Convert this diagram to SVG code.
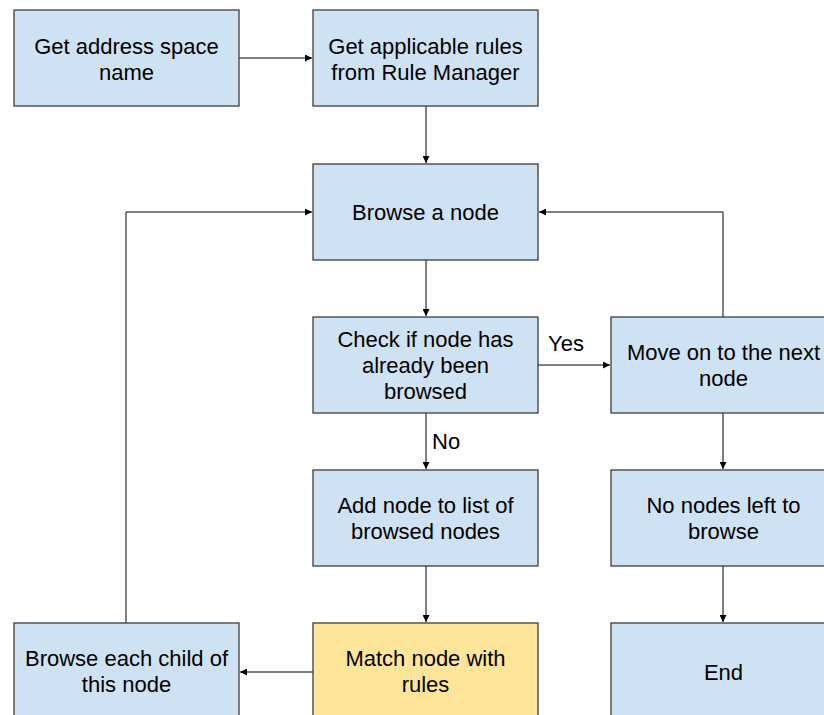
<svg xmlns="http://www.w3.org/2000/svg" width="824" height="715" viewBox="0 0 824 715">
  <style>
    .box { fill: #cfe2f3; stroke: #3c3c3c; stroke-width: 1.3; }
    .hl { fill: #ffe599; }
    .t { font-family: "Liberation Sans", Arial, sans-serif; font-size: 22px; fill: #000; text-anchor: middle; }
    .lbl { font-family: "Liberation Sans", Arial, sans-serif; font-size: 22px; fill: #000; }
    .c { fill: none; stroke: #000; stroke-width: 1; marker-end: url(#arr); }
  </style>
  <defs>
    <marker id="arr" viewBox="0 0 10 10" refX="10" refY="5" markerWidth="7" markerHeight="7" markerUnits="userSpaceOnUse" orient="auto">
      <path d="M0,0 L10,5 L0,10 Z" fill="#000"/>
    </marker>
  </defs>

  <g id="connectors">
    <path class="c" d="M239,58 H312"/>
    <path class="c" d="M426,106 V163"/>
    <path class="c" d="M426,260 V316"/>
    <path class="c" d="M538,365 H610"/>
    <path class="c" d="M426,413 V469"/>
    <path class="c" d="M426,566 V622"/>
    <path class="c" d="M313,672 H240"/>
    <path class="c" d="M126,623 V212 H312"/>
    <path class="c" d="M723,317 V212 H539"/>
    <path class="c" d="M723,413 V469"/>
    <path class="c" d="M723,566 V622"/>
    <text class="lbl" x="548" y="351">Yes</text>
    <text class="lbl" x="432" y="449">No</text>
  </g>

  <g id="get-address-space">
    <rect class="box" x="14" y="10" width="225" height="96"/>
    <text class="t" x="126.5" y="54">Get address space</text>
    <text class="t" x="126.5" y="80">name</text>
  </g>
  <g id="get-rules">
    <rect class="box" x="313" y="10" width="225" height="96"/>
    <text class="t" x="425.5" y="54">Get applicable rules</text>
    <text class="t" x="425.5" y="80">from Rule Manager</text>
  </g>
  <g id="browse-node">
    <rect class="box" x="313" y="164" width="225" height="96"/>
    <text class="t" x="425.5" y="220">Browse a node</text>
  </g>
  <g id="check-browsed">
    <rect class="box" x="313" y="317" width="225" height="96"/>
    <text class="t" x="425.5" y="347">Check if node has</text>
    <text class="t" x="425.5" y="373">already been</text>
    <text class="t" x="425.5" y="399">browsed</text>
  </g>
  <g id="next-node">
    <rect class="box" x="611" y="317" width="225" height="96"/>
    <text class="t" x="723.5" y="360">Move on to the next</text>
    <text class="t" x="723.5" y="386">node</text>
  </g>
  <g id="add-node">
    <rect class="box" x="313" y="470" width="225" height="96"/>
    <text class="t" x="425.5" y="513">Add node to list of</text>
    <text class="t" x="425.5" y="539">browsed nodes</text>
  </g>
  <g id="no-nodes-left">
    <rect class="box" x="611" y="470" width="225" height="96"/>
    <text class="t" x="723.5" y="513">No nodes left to</text>
    <text class="t" x="723.5" y="539">browse</text>
  </g>
  <g id="match-rules">
    <rect class="box hl" x="313" y="623" width="225" height="96"/>
    <text class="t" x="425.5" y="666">Match node with</text>
    <text class="t" x="425.5" y="692">rules</text>
  </g>
  <g id="browse-children">
    <rect class="box" x="14" y="623" width="225" height="96"/>
    <text class="t" x="126.5" y="666">Browse each child of</text>
    <text class="t" x="126.5" y="692">this node</text>
  </g>
  <g id="end">
    <rect class="box" x="611" y="623" width="225" height="96"/>
    <text class="t" x="723.5" y="680">End</text>
  </g>
</svg>
